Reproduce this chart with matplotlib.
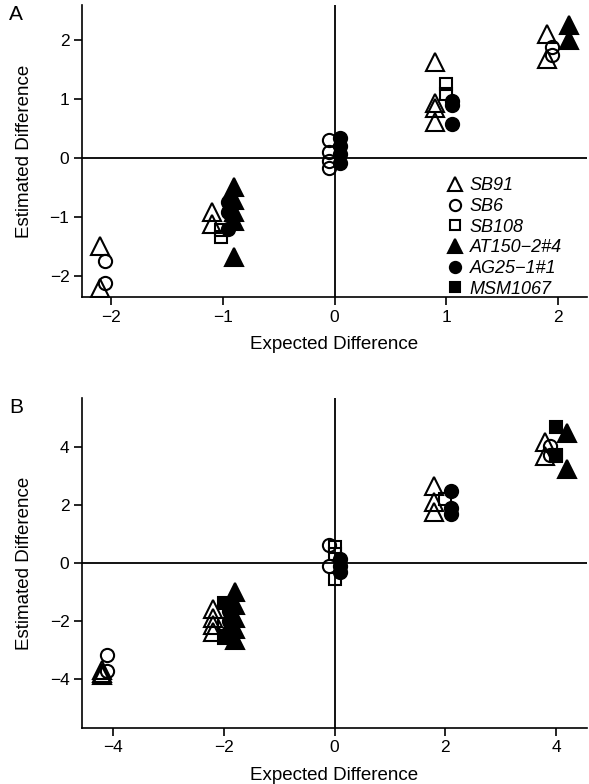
import numpy as np
import matplotlib.pyplot as plt
from matplotlib.lines import Line2D

plt.rcParams['font.family'] = ['Liberation Sans', 'DejaVu Sans']

#series names and marker styles (open = strain SB*, filled = others)
names = ['SB91', 'SB6', 'SB108', 'AT150\u22122#4', 'AG25\u22121#1', 'MSM1067']
markers = ['^', 'o', 's', '^', 'o', 's']
filled = [False, False, False, True, True, True]
msizes = [12.5, 9.5, 8.5, 12.5, 9.5, 8.5]

#Panel A values
a_sb91_x = [-2.1, -2.1, -1.1, -1.1, 0.9, 0.9, 0.9, 0.9, 1.9, 1.9]
a_sb91_y = [-1.5, -2.2, -0.92, -1.12, 1.62, 0.93, 0.85, 0.6, 2.1, 1.68]
a_sb6_x = [-2.05, -2.05, -0.05, -0.05, -0.05, -0.05, 1.95, 1.95]
a_sb6_y = [-1.75, -2.12, 0.3, 0.1, -0.05, -0.18, 1.87, 1.75]
a_sb108_x = [-1.02, -1.02, 1.0, 1.0]
a_sb108_y = [-1.35, -1.22, 1.25, 1.08]
a_at150_x = [-0.9, -0.9, -0.9, -0.9, -0.9, 2.1, 2.1]
a_at150_y = [-0.5, -0.72, -0.92, -1.08, -1.68, 2.25, 2.0]
a_ag25_x = [-0.95, -0.95, -0.95, 0.05, 0.05, 0.05, 0.05, 1.05, 1.05, 1.05]
a_ag25_y = [-0.75, -0.92, -1.2, 0.33, 0.2, 0.07, -0.08, 0.97, 0.9, 0.58]
a_msm_x = []
a_msm_y = []

#Panel B values
b_sb91_x = [-4.2, -4.2, -4.2, -2.2, -2.2, -2.2, -2.2, 1.8, 1.8, 1.8, 3.8, 3.8]
b_sb91_y = [-3.7, -3.8, -3.88, -1.6, -1.9, -2.15, -2.4, 2.65, 2.1, 1.75, 4.2, 3.7]
b_sb6_x = [-4.1, -4.1, -0.1, -0.1, 3.9, 3.9]
b_sb6_y = [-3.2, -3.75, 0.62, -0.1, 4.05, 3.75]
b_sb108_x = [-2.0, 0.0, 0.0, 0.0, 2.0, 4.0]
b_sb108_y = [-2.1, 0.55, 0.3, -0.55, 2.2, 3.75]
b_at150_x = [-1.8, -1.8, -1.8, -1.8, -1.8, 4.2, 4.2]
b_at150_y = [-1.0, -1.45, -1.9, -2.3, -2.65, 4.5, 3.25]
b_ag25_x = [-1.9, -1.9, -1.9, 0.1, 0.1, 0.1, 2.1, 2.1, 2.1]
b_ag25_y = [-1.65, -2.0, -2.35, 0.15, -0.1, -0.3, 2.5, 1.9, 1.7]
b_msm_x = [-2.0, -2.0, 4.0, 4.0]
b_msm_y = [-1.4, -2.6, 4.7, 3.72]

a_data = [(a_sb91_x, a_sb91_y), (a_sb6_x, a_sb6_y), (a_sb108_x, a_sb108_y),
          (a_at150_x, a_at150_y), (a_ag25_x, a_ag25_y), (a_msm_x, a_msm_y)]
b_data = [(b_sb91_x, b_sb91_y), (b_sb6_x, b_sb6_y), (b_sb108_x, b_sb108_y),
          (b_at150_x, b_at150_y), (b_ag25_x, b_ag25_y), (b_msm_x, b_msm_y)]

a_xticks = [-2, -1, 0, 1, 2]
a_yticks = [-2, -1, 0, 1, 2]
b_xticks = [-4, -2, 0, 2, 4]
b_yticks = [-4, -2, 0, 2, 4]

fig = plt.figure(figsize=(5.89, 7.84), dpi=100)
ax1 = fig.add_axes([82/589, 1-297/784, 505/589, 292/784])
ax2 = fig.add_axes([82/589, 1-728/784, 505/589, 330/784])


def draw(ax, data, xticks, yticks, xlim, ylim, tag):
    ax.axhline(0, color='k', lw=1.3, zorder=1)
    ax.axvline(0, color='k', lw=1.3, zorder=1)
    for i in range(len(data)):
        x, y = data[i]
        if len(x) == 0:
            continue
        ax.plot(x, y, ls='none', marker=markers[i], ms=msizes[i],
                mfc='k' if filled[i] else 'none', mec='k', mew=1.5, zorder=3)
    ax.set_xlim(xlim)
    ax.set_ylim(ylim)
    ax.set_xticks(xticks)
    ax.set_yticks(yticks)
    ax.spines['top'].set_visible(False)
    ax.spines['right'].set_visible(False)
    ax.spines['left'].set_linewidth(1.2)
    ax.spines['bottom'].set_linewidth(1.2)
    ax.tick_params(direction='out', length=6, width=1.2, labelsize=12.5, pad=3)
    ax.set_xlabel('Expected Difference', fontsize=13.5, labelpad=8)
    ax.set_ylabel('Estimated Difference', fontsize=13.5, labelpad=12)
    ax.text(-0.13, 1.0, tag, transform=ax.transAxes, fontsize=15, va='top', ha='center')


draw(ax1, a_data, a_xticks, a_yticks, (-2.26, 2.26), (-2.36, 2.59), 'A')
draw(ax2, b_data, b_xticks, b_yticks, (-4.56, 4.56), (-5.71, 5.71), 'B')

handles = [Line2D([], [], ls='none', marker=markers[i], ms=msizes[i]*0.85,
                  mfc='k' if filled[i] else 'none', mec='k', mew=1.5)
           for i in range(len(names))]
leg = ax1.legend(handles, names, loc='lower right', bbox_to_anchor=(0.975, -0.045),
                 frameon=False, prop={'style': 'italic', 'size': 13},
                 handlelength=0.8, handletextpad=0.4, labelspacing=0.2,
                 borderaxespad=0.3)

plt.savefig('out.png', dpi=100)
